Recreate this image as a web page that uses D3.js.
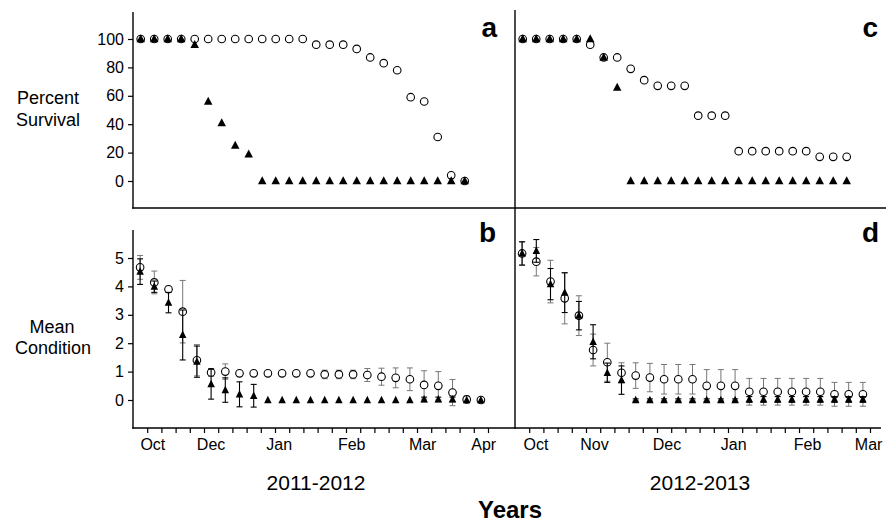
<!DOCTYPE html>
<html><head><meta charset="utf-8">
<script src="https://cdn.jsdelivr.net/npm/d3@7"></script>
<style>body{margin:0;background:#fff}svg{display:block}</style>
</head><body><svg id="c" width="888" height="530"></svg>
<script>
// ---------- DATA ----------
const sampleIdx = [0,1,2,3,4,5,6,7,8,9,10,11,12,13,14,15,16,17,18,19,20,21,22,23,24];

// Panel a (2011-2012, percent survival)
const survA_circle = [100,100,100,100,100,100,100,100,100,100,100,100,100,96,96,96,93,87,83,78,59,56,31,4,0];
const survA_tri    = [100,100,100,100,96,56,41,25,19,0,0,0,0,0,0,0,0,0,0,0,0,0,0,0,0];
// Panel c (2012-2013, percent survival)
const survC_circle = [100,100,100,100,100,96,87,87,79,71,67,67,67,46,46,46,21,21,21,21,21,21,17,17,17];
const survC_tri    = [100,100,100,100,100,100,87,66,0,0,0,0,0,0,0,0,0,0,0,0,0,0,0,0,0];

// Panel b (2011-2012, mean condition +/- error)
const condB_circle = [4.67,4.14,3.90,3.11,1.40,0.97,1.00,0.94,0.94,0.94,0.94,0.94,0.94,0.90,0.90,0.90,0.88,0.82,0.78,0.73,0.53,0.50,0.26,0.02,0.00];
const errB_circle  = [0.42,0.40,0.10,1.10,0.55,0.14,0.27,0.04,0.04,0.04,0.04,0.04,0.04,0.15,0.15,0.15,0.23,0.30,0.35,0.40,0.50,0.50,0.46,0.12,0.00];
const condB_tri    = [4.52,3.99,3.43,2.29,1.35,0.56,0.35,0.20,0.15,0,0,0,0,0,0,0,0,0,0,0,0.02,0.02,0.02,0,0];
const errB_tri     = [0.45,0.20,0.36,0.88,0.55,0.53,0.43,0.44,0.40,0,0,0,0,0,0,0,0,0,0,0,0.08,0.08,0.08,0,0];

// Panel d (2012-2013, mean condition +/- error)
const condD_circle = [5.16,4.87,4.17,3.58,2.97,1.76,1.33,0.96,0.86,0.79,0.73,0.73,0.73,0.50,0.50,0.50,0.29,0.29,0.29,0.29,0.29,0.29,0.20,0.20,0.20];
const errD_circle  = [0.41,0.50,0.75,0.90,0.70,0.56,0.67,0.35,0.45,0.50,0.52,0.52,0.52,0.57,0.57,0.57,0.47,0.47,0.47,0.47,0.47,0.47,0.42,0.42,0.42];
const condD_tri    = [5.16,5.25,4.08,3.78,2.97,2.05,0.96,0.70,0,0,0,0,0,0,0,0,0.02,0.02,0.02,0.02,0.02,0.02,0.02,0.02,0.02];
const errD_tri     = [0.41,0.40,0.55,0.70,0.50,0.60,0.34,0.50,0.04,0.04,0.04,0.04,0.04,0.04,0.04,0.04,0.10,0.10,0.10,0.10,0.10,0.10,0.10,0.10,0.10];

// Tick labels
const survTicks = [0,20,40,60,80,100];
const condTicks = [0,1,2,3,4,5];
const monthsB = ["Oct","Dec","Jan","Feb","Mar","Apr"];
const monthPosB = [0.9,5.0,9.8,14.9,19.9,24.2];
const monthsD = ["Oct","Nov","Dec","Jan","Feb","Mar"];
const monthPosD = [0.98,5.1,10.2,14.9,20.1,24.4];
const seasonLabels = ["2011-2012","2012-2013"];

// ---------- LAYOUT ----------
const svg = d3.select("#c");
const FONT = "'Liberation Sans', Arial, sans-serif";
const axL = 133, axM = 515, rightTop = 886, rightBot = 881;
const yTop = d3.scaleLinear().domain([0,100]).range([181,39]);
const yBot = d3.scaleLinear().domain([0,5]).range([400,258]);
const xTop = x0 => d3.scaleLinear().domain([0,24]).range([x0+7.7, x0+7.7+13.5*24]);
const xBot = x0 => d3.scaleLinear().domain([0,24]).range([x0+7.1, x0+7.1+14.2*24]);
const xA = xTop(axL), xC = xTop(axM), xB = xBot(axL), xD = xBot(axM);

const line = (x1,y1,x2,y2,w=1.4) => svg.append("line").attr("x1",x1).attr("y1",y1).attr("x2",x2).attr("y2",y2)
  .attr("stroke","#000").attr("stroke-width",w);

// frame lines
line(axL,12,axL,208.7);
line(axL,230,axL,428.7);
line(axM,10,axM,428.7);
line(axL-0.7,208,rightTop,208);
line(axL-0.7,428,rightBot,428);

// y axes
function yAxis(scale, ticks){
  const g = svg.append("g").attr("transform",`translate(${axL},0)`)
    .call(d3.axisLeft(scale).tickValues(ticks).tickSize(5).tickPadding(4).tickFormat(d3.format("d")));
  g.select(".domain").remove();
  g.selectAll(".tick line").attr("stroke","#000").attr("stroke-width",1.2);
  g.selectAll(".tick text").attr("font-family",FONT).attr("font-size",16).attr("fill","#000");
}
yAxis(yTop, survTicks);
yAxis(yBot, condTicks);

// bottom axes
function xAxis(scale, months, pos){
  const g = svg.append("g").attr("transform","translate(0,428)")
    .call(d3.axisBottom(scale).tickValues(sampleIdx.map(i=>i+0.5)).tickSize(5).tickFormat(""));
  g.select(".domain").remove();
  g.selectAll(".tick line").attr("stroke","#000").attr("stroke-width",1.2);
  svg.append("g").selectAll("text").data(months).join("text")
    .attr("x",(d,i)=>scale(pos[i])).attr("y",450)
    .attr("text-anchor","middle").attr("font-family",FONT).attr("font-size",16).text(d=>d);
}
xAxis(xB, monthsB, monthPosB);
xAxis(xD, monthsD, monthPosD);

// markers
const triPath = (w,h) => `M0,${-h*0.58}L${w/2},${h*0.42}L${-w/2},${h*0.42}Z`;
function errBars(x, y, vals, errs, color, w){
  const g = svg.append("g").attr("stroke",color).attr("stroke-width",w).attr("fill","none");
  vals.forEach((v,i)=>{
    const e = errs[i]; if(!e) return;
    const cx = x(i), y1 = y(v+e), y2 = y(v-e);
    g.append("line").attr("x1",cx).attr("x2",cx).attr("y1",y1).attr("y2",y2);
    g.append("line").attr("x1",cx-3).attr("x2",cx+3).attr("y1",y1).attr("y2",y1);
    g.append("line").attr("x1",cx-3).attr("x2",cx+3).attr("y1",y2).attr("y2",y2);
  });
}
function circles(x, y, vals){
  svg.append("g").selectAll("circle").data(vals).join("circle")
    .attr("cx",(d,i)=>x(i)).attr("cy",d=>y(d)).attr("r",3.8)
    .attr("fill","#fff").attr("stroke","#000").attr("stroke-width",1.1);
}
function tris(x, y, vals, w, h){
  svg.append("g").selectAll("path").data(vals).join("path")
    .attr("transform",(d,i)=>`translate(${x(i)},${y(d)})`)
    .attr("d",triPath(w,h)).attr("fill","#000");
}

// panel a
circles(xA, yTop, survA_circle);
tris(xA, yTop, survA_tri, 8.5, 8);
// panel c
circles(xC, yTop, survC_circle);
tris(xC, yTop, survC_tri, 8.5, 8);
// panel b
errBars(xB, yBot, condB_circle, errB_circle, "#777", 1);
circles(xB, yBot, condB_circle);
errBars(xB, yBot, condB_tri, errB_tri, "#000", 1.1);
tris(xB, yBot, condB_tri, 7.5, 7.5);
// panel d
errBars(xD, yBot, condD_circle, errD_circle, "#777", 1);
circles(xD, yBot, condD_circle);
errBars(xD, yBot, condD_tri, errD_tri, "#000", 1.1);
tris(xD, yBot, condD_tri, 7.5, 7.5);

// panel letters
const letter = (t,x,y) => svg.append("text").attr("x",x).attr("y",y).attr("text-anchor","end")
  .attr("font-family",FONT).attr("font-weight","bold").attr("font-size",28).text(t);
letter("a",497,37); letter("c",878,37); letter("b",496,242); letter("d",879,242);

// axis titles
const txt = (t,x,y,size,weight="normal") => svg.append("text").attr("x",x).attr("y",y).attr("text-anchor","middle")
  .attr("font-family",FONT).attr("font-size",size).attr("font-weight",weight).text(t);
txt("Percent",48,104,18); txt("Survival",48,126,18);
txt("Mean",52,333,18); txt("Condition",53,354,18);
txt(seasonLabels[0],316,490,21); txt(seasonLabels[1],700,490,21);
txt("Years",510,518,24,"bold");
</script></body></html>
